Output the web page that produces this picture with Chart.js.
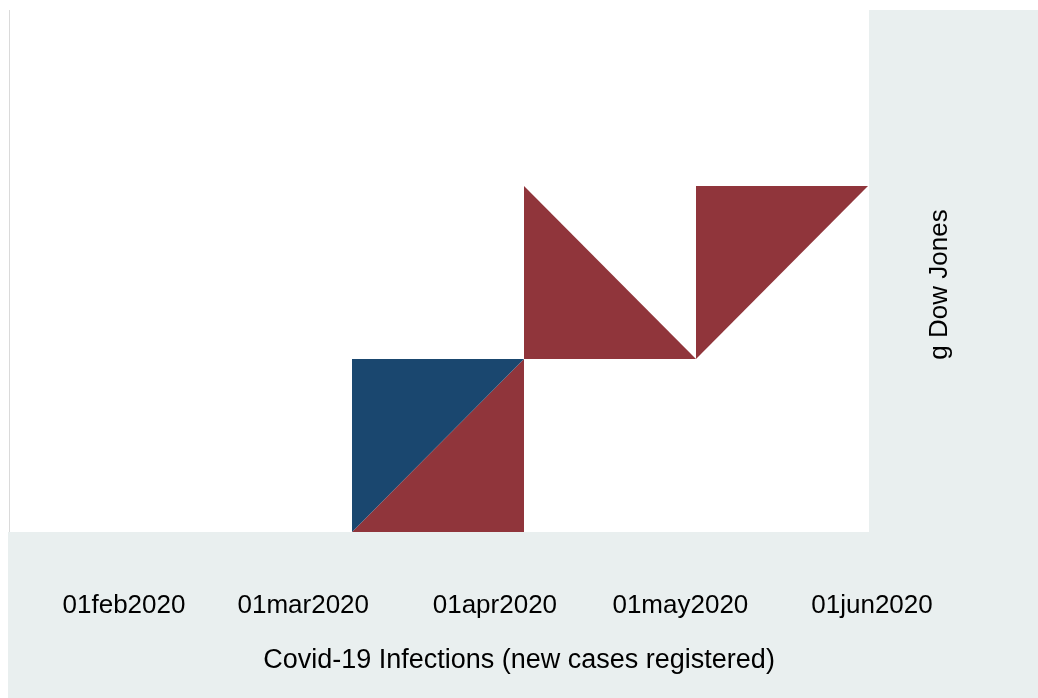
<!DOCTYPE html>
<html>
<head>
<meta charset="utf-8">
<script src="https://cdn.jsdelivr.net/npm/chart.js@4/dist/chart.umd.min.js"></script>
<style>
  html, body { margin: 0; padding: 0; background: #ffffff; }
  #wrap { width: 1038px; height: 698px; position: relative; }
</style>
</head>
<body>
<div id="wrap"><canvas id="c" width="1038" height="698"></canvas></div>
<script>
// ---- data ----
const categories = ['1', '2', '3', '4', '5', '6'];
const blueUpper  = [null, null, 1, 1, null, null];
const redLower   = [null, null, 0, 1, null, null];
const redMiddle  = [null, null, null, 2, 1, null];
const redUpper   = [null, null, null, null, 1, 2];
const redMiddleBase = 1;
const redUpperBase  = 2;

const tickDates  = ['2020-02-01', '2020-03-01', '2020-04-01', '2020-05-01', '2020-06-01'];
const tickLabels = ['01feb2020', '01mar2020', '01apr2020', '01may2020', '01jun2020'];
const xTitle = 'Covid-19 Infections (new cases registered)';
const rightTitle = 'g Dow Jones';

// ---- helpers ----
const DAY = 86400000;
const base = Date.parse(tickDates[0]);
const tickDays = tickDates.map(d => (Date.parse(d) - base) / DAY);

const NAVY = '#1a476f';
const MAROON = '#90353b';
const PANEL = '#e9efef';

const panelPlugin = {
  id: 'panels',
  beforeDraw(chart) {
    const ctx = chart.ctx;
    const a = chart.chartArea;
    const W = chart.width, H = chart.height;
    ctx.save();
    ctx.fillStyle = '#ffffff';
    ctx.fillRect(0, 0, W, H);
    ctx.fillStyle = PANEL;
    ctx.fillRect(a.left, a.bottom, W - a.left, H - a.bottom);
    ctx.fillRect(a.right + 1, a.top - 3, W - a.right - 1, a.bottom - a.top + 3);
    // faint frame marks
    ctx.strokeStyle = 'rgba(150,150,150,0.35)';
    ctx.lineWidth = 1;
    ctx.beginPath();
    ctx.moveTo(a.left + 1.5, a.top - 3);
    ctx.lineTo(a.left + 1.5, a.bottom);
    ctx.stroke();
    ctx.restore();
  },
  afterDraw(chart) {
    const ctx = chart.ctx;
    const a = chart.chartArea;
    ctx.save();
    ctx.fillStyle = '#000000';
    ctx.font = '27px "Liberation Sans", Arial, sans-serif';
    ctx.textAlign = 'center';
    ctx.textBaseline = 'alphabetic';
    ctx.fillText(xTitle, (a.left + chart.width) / 2 - 4, 668);
    ctx.translate(947, (a.top + a.bottom) / 2 + 12);
    ctx.rotate(-Math.PI / 2);
    ctx.font = '26px "Liberation Sans", Arial, sans-serif';
    ctx.fillText(rightTitle, 0, 0);
    ctx.restore();
  }
};

const common = { borderWidth: 0, pointRadius: 0, pointHoverRadius: 0, tension: 0, spanGaps: false };

new Chart(document.getElementById('c'), {
  type: 'line',
  data: {
    labels: categories,
    datasets: [
      Object.assign({ label: 'upper', data: blueUpper, backgroundColor: NAVY, borderColor: NAVY, fill: '+1' }, common),
      Object.assign({ label: 'lower', data: redLower, backgroundColor: MAROON, borderColor: MAROON, fill: 'origin' }, common),
      Object.assign({ label: 'mid', data: redMiddle, backgroundColor: MAROON, borderColor: MAROON, fill: { value: redMiddleBase } }, common),
      Object.assign({ label: 'top', data: redUpper, backgroundColor: MAROON, borderColor: MAROON, fill: { value: redUpperBase } }, common)
    ]
  },
  options: {
    responsive: false,
    animation: false,
    layout: { padding: { left: 8, top: 13, right: 170, bottom: 0 } },
    plugins: { legend: { display: false }, tooltip: { enabled: false }, title: { display: false } },
    scales: {
      x: { type: 'category', offset: false, display: false },
      y: { type: 'linear', min: 0, max: 3, display: false },
      xd: {
        type: 'linear',
        position: 'bottom',
        min: -18.76,
        max: 120.35,
        grid: { display: false, drawTicks: false, tickLength: 0 },
        border: { display: false },
        ticks: {
          autoSkip: false,
          maxRotation: 0,
          padding: 58,
          color: '#000000',
          font: { family: '"Liberation Sans", Arial, sans-serif', size: 26 },
          callback: (v) => {
            const i = tickDays.indexOf(v);
            return i >= 0 ? tickLabels[i] : '';
          }
        },
        afterBuildTicks: (scale) => { scale.ticks = tickDays.map(v => ({ value: v })); },
        afterFit: (scale) => { scale.height = 166; }
      }
    }
  },
  plugins: [panelPlugin]
});
</script>
</body>
</html>
